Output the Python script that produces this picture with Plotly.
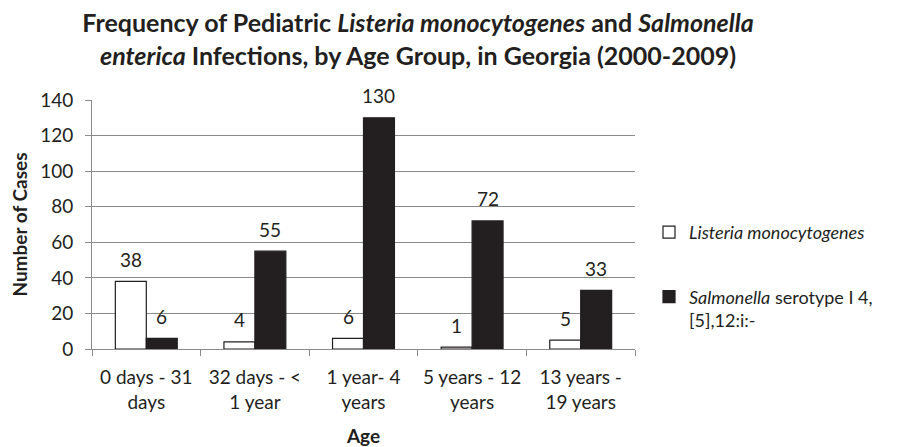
import plotly.graph_objects as go

categories = ["0 days - 31<br>days", "32 days - <<br>1 year", "1 year- 4<br>years",
              "5 years - 12<br>years", "13 years -<br>19 years"]
listeria = [38, 4, 6, 1, 5]
salmonella = [6, 55, 130, 72, 33]
series_names = ["<i>Listeria monocytogenes</i>", "<i>Salmonella</i> serotype I 4,<br>[5],12:i:-"]
y_ticks = [0, 20, 40, 60, 80, 100, 120, 140]

FONT = "Lato, Carlito, 'Open Sans', sans-serif"
DARK = "#231f20"
GRID = "#8a8a8a"

# page body adds an 8px offset; figure is sized so it fills the 900x447 window
W, H = 892, 439
ML, MR, MT, MB = 84, 265, 92, 98
BARGAP = 0.43

fig = go.Figure()
fig.add_trace(go.Bar(x=categories, y=listeria, name=series_names[0],
                     marker=dict(color="white", line=dict(color=DARK, width=1.2)),
                     legendgroup="a"))
fig.add_trace(go.Bar(x=categories, y=salmonella, name=series_names[1],
                     marker=dict(color=DARK, line=dict(color=DARK, width=1.2)),
                     legendgroup="b"))

# data labels
plot_w = W - ML - MR
bar_w = plot_w / len(categories) * (1 - BARGAP) / 2
for vals, sh in ((listeria, -bar_w / 2), (salmonella, bar_w / 2)):
    for c, v in zip(categories, vals):
        fig.add_annotation(x=c, y=v, text=str(v), showarrow=False,
                           xshift=sh, yshift=22, yanchor="middle",
                           font=dict(family=FONT, size=19, color=DARK))

fig.update_layout(
    width=W, height=H,
    margin=dict(l=ML, r=MR, t=MT, b=MB, autoexpand=False),
    paper_bgcolor="white", plot_bgcolor="white",
    barmode="group", bargap=BARGAP, bargroupgap=0,
    font=dict(family=FONT, color=DARK),
    title=dict(text="<b>Frequency of Pediatric <i>Listeria monocytogenes</i> and <i>Salmonella</i><br>"
                    "<i>enterica</i> Infections, by Age Group, in Georgia (2000-2009)</b>",
               x=410 / W, xanchor="center", xref="container",
               y=1 - 24 / H, yanchor="top", yref="container",
               font=dict(family=FONT, size=25, color=DARK)),
    legend=dict(x=641 / W, xanchor="left", xref="container",
                y=1 - 206 / H, yanchor="top", yref="container",
                font=dict(family=FONT, size=18, color=DARK),
                tracegroupgap=38, valign="top", bgcolor="rgba(0,0,0,0)"),
    showlegend=True,
)
fig.update_xaxes(showline=True, linecolor=GRID, linewidth=1, automargin=False,
                 ticks="outside", tickson="boundaries", ticklen=6, tickcolor=GRID,
                 tickfont=dict(family=FONT, size=19, color=DARK),
                 ticklabelstandoff=11,
                 title=dict(text="<b>Age</b>", font=dict(family=FONT, size=19, color=DARK),
                            standoff=21))
fig.update_yaxes(range=[0, 140], tickvals=y_ticks, showgrid=True, gridcolor=GRID, gridwidth=1,
                 showline=True, linecolor=GRID, linewidth=1, zeroline=False, automargin=False,
                 ticks="outside", ticklen=6, tickcolor=GRID,
                 tickfont=dict(family=FONT, size=19, color=DARK),
                 ticklabelstandoff=8,
                 title=dict(text="<b>Number of Cases</b>", font=dict(family=FONT, size=19, color=DARK),
                            standoff=8))

fig.write_html("out.html")
